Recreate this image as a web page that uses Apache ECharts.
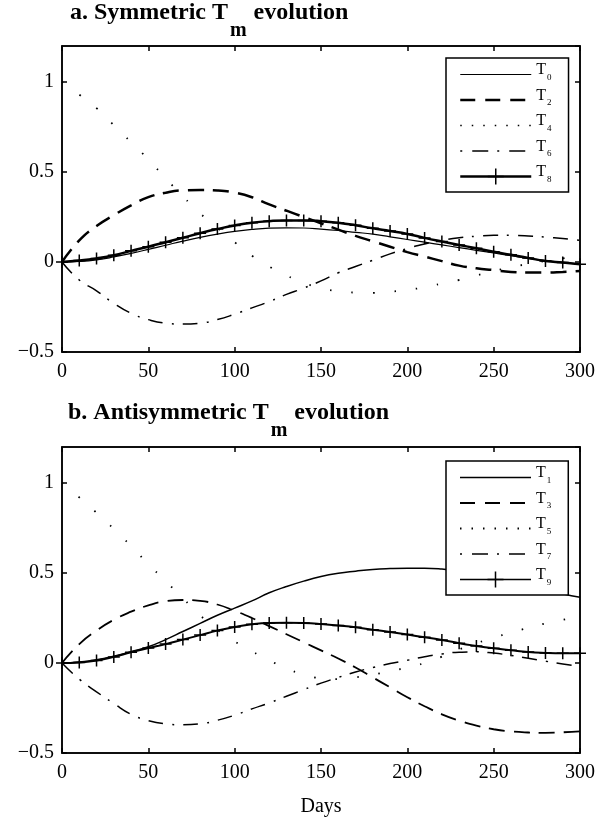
<!DOCTYPE html>
<html>
<head>
<meta charset="utf-8">
<script src="https://cdn.jsdelivr.net/npm/echarts@6/dist/echarts.min.js"></script>
<style>
  html, body { margin: 0; padding: 0; background: #fff; }
  #chart { width: 603px; height: 820px; }
</style>
</head>
<body>
<div id="chart"></div>
<script>
const serif = '"Liberation Serif", "Times New Roman", serif';

// days sampled every 10 days
const days = [0, 10, 20, 30, 40, 50, 60, 70, 80, 90, 100, 110, 120, 130, 140, 150,
  160, 170, 180, 190, 200, 210, 220, 230, 240, 250, 260, 270, 280, 290, 300];

// a. symmetric modes
const t0 = [0, 0.003, 0.012, 0.028, 0.048, 0.07, 0.093, 0.116, 0.137, 0.155, 0.17, 0.181, 0.188, 0.19, 0.189, 0.183,
  0.175, 0.165, 0.155, 0.14, 0.125, 0.11, 0.095, 0.08, 0.065, 0.05, 0.035, 0.02, 0.008, -0.003, -0.012];
const t2 = [0, 0.12, 0.2, 0.26, 0.315, 0.36, 0.385, 0.398, 0.4, 0.397, 0.385, 0.36, 0.32, 0.285, 0.25, 0.215,
  0.18, 0.145, 0.115, 0.085, 0.055, 0.03, 0.005, -0.02, -0.035, -0.045, -0.055, -0.058, -0.058, -0.055, -0.05];
const t4 = [1, 0.93, 0.855, 0.76, 0.665, 0.57, 0.465, 0.365, 0.27, 0.19, 0.11, 0.035, -0.025, -0.075, -0.115, -0.145,
  -0.162, -0.17, -0.172, -0.165, -0.155, -0.14, -0.12, -0.1, -0.075, -0.05, -0.03, -0.01, 0.005, 0.02, 0.035];
const t6 = [0, -0.1, -0.16, -0.23, -0.285, -0.32, -0.34, -0.345, -0.34, -0.32, -0.29, -0.255, -0.22, -0.18, -0.145, -0.105,
  -0.06, -0.025, 0.01, 0.045, 0.075, 0.1, 0.12, 0.135, 0.143, 0.148, 0.148, 0.145, 0.138, 0.13, 0.12];
const t8 = [0, 0.008, 0.02, 0.037, 0.062, 0.085, 0.11, 0.135, 0.16, 0.183, 0.203, 0.218, 0.227, 0.231, 0.231, 0.227,
  0.218, 0.204, 0.187, 0.172, 0.156, 0.134, 0.114, 0.095, 0.076, 0.057, 0.04, 0.022, 0.006, -0.003, -0.012];

// b. antisymmetric modes
const t1 = [0, 0.005, 0.018, 0.038, 0.063, 0.09, 0.13, 0.175, 0.22, 0.265, 0.305, 0.345, 0.39, 0.425, 0.455, 0.48,
  0.498, 0.51, 0.52, 0.525, 0.527, 0.527, 0.522, 0.51, 0.495, 0.475, 0.455, 0.43, 0.41, 0.385, 0.365];
const t3 = [0, 0.105, 0.18, 0.24, 0.285, 0.32, 0.343, 0.35, 0.345, 0.325, 0.29, 0.25, 0.205, 0.16, 0.115, 0.07,
  0.025, -0.025, -0.08, -0.135, -0.19, -0.24, -0.285, -0.32, -0.348, -0.368, -0.38, -0.386, -0.388, -0.385, -0.38];
const t5 = [1, 0.92, 0.835, 0.745, 0.65, 0.55, 0.455, 0.36, 0.265, 0.185, 0.12, 0.065, 0.015, -0.03, -0.065, -0.085,
  -0.09, -0.08, -0.065, -0.045, -0.025, 0, 0.035, 0.075, 0.11, 0.14, 0.17, 0.195, 0.22, 0.24, 0.26];
const t7 = [0, -0.09, -0.16, -0.225, -0.285, -0.32, -0.338, -0.343, -0.338, -0.318, -0.29, -0.255, -0.222, -0.185, -0.148, -0.112,
  -0.08, -0.05, -0.025, -0.003, 0.015, 0.035, 0.05, 0.06, 0.062, 0.055, 0.042, 0.026, 0.01, -0.005, -0.02];
const t9 = [0, 0.003, 0.014, 0.034, 0.06, 0.083, 0.105, 0.13, 0.155, 0.18, 0.2, 0.215, 0.222, 0.223, 0.222, 0.217,
  0.208, 0.198, 0.185, 0.172, 0.158, 0.143, 0.128, 0.11, 0.095, 0.082, 0.071, 0.061, 0.056, 0.054, 0.054];

const yTicks = { min: -0.5, max: 1.2, interval: 0.5 };
const xTicks = { min: 0, max: 300, interval: 50 };

const plus = 'path://M5,0L5,10M0,5L10,5';
const pts = vals => days.map((d, i) => [d, vals[i]]);

const axLine = { show: true, onZero: false, lineStyle: { color: '#000', width: 1.5 } };
const axTick = { show: true, inside: true, length: 5, lineStyle: { color: '#000', width: 1.5 } };
const tickFont = { color: '#000', fontFamily: serif, fontSize: 20 };

function xPair(gi, name) {
  return [
    { type: 'value', gridIndex: gi, ...xTicks, position: 'bottom', axisLine: axLine, axisTick: axTick,
      axisLabel: { ...tickFont, margin: 10 }, splitLine: { show: false },
      name: name, nameLocation: 'middle', nameGap: 44,
      nameTextStyle: { color: '#000', fontFamily: serif, fontSize: 20 } },
    { type: 'value', gridIndex: gi, ...xTicks, position: 'top', axisLine: axLine, axisTick: axTick,
      axisLabel: { show: false }, splitLine: { show: false } }
  ];
}
function yPair(gi) {
  return [
    { type: 'value', gridIndex: gi, ...yTicks, position: 'left', axisLine: axLine, axisTick: axTick,
      axisLabel: { ...tickFont, margin: 8, showMaxLabel: false,
        formatter: v => v < 0 ? '\u2212' + (-v) : String(v) },
      splitLine: { show: false } },
    { type: 'value', gridIndex: gi, ...yTicks, position: 'right', axisLine: axLine, axisTick: axTick,
      axisLabel: { show: false }, splitLine: { show: false } }
  ];
}

function line(name, vals, ax, dash, width, marker) {
  const s = {
    name: name, type: 'line', xAxisIndex: ax, yAxisIndex: ax, data: pts(vals),
    smooth: true, silent: true, z: marker ? 3 : 2,
    lineStyle: { color: '#000', width: width, type: dash },
    symbol: 'none', showSymbol: false
  };
  if (marker) {
    s.symbol = plus; s.symbolSize = 12; s.showSymbol = true;
    s.itemStyle = { color: 'none', borderColor: '#000', borderWidth: 1.5 };
  }
  return s;
}

const dashed = [16, 9], dotted = [1.5, 20], dashDot = [15, 9, 2, 9];

const titleRich = {
  b: { fontFamily: serif, fontSize: 24, fontWeight: 'bold', color: '#000', verticalAlign: 'top' },
  s: { fontFamily: serif, fontSize: 20, fontWeight: 'bold', color: '#000', verticalAlign: 'top', padding: [20, 1, 0, 2] }
};
const legendRich = {
  t: { fontFamily: serif, fontSize: 16, color: '#000', verticalAlign: 'top' },
  s: { fontFamily: serif, fontSize: 9, color: '#000', verticalAlign: 'top', padding: [11, 0, 5, 1] }
};
const noMark = { opacity: 0 };
function legendItems(names, styles) {
  return names.map((n, i) => ({ name: n, itemStyle: styles[i].mark ? { color: 'none', borderColor: '#000', borderWidth: 1.5 } : noMark,
    lineStyle: { width: styles[i].w, type: styles[i].type } }));
}
const legendBase = {
  orient: 'vertical', left: 446, selectedMode: false,
  backgroundColor: '#fff', borderColor: '#000', borderWidth: 1.5,
  padding: [4, 17, 5, 13], itemWidth: 71, itemHeight: 20, itemGap: 5,
  formatter: n => '{t|T}{s|' + n.slice(1) + '}',
  textStyle: { rich: legendRich }
};

const chart = echarts.init(document.getElementById('chart'), null, { renderer: 'canvas' });
chart.setOption({
  animation: false,
  backgroundColor: '#fff',
  title: [
    { left: 70, top: 1, padding: 0, text: '{b|a. Symmetric T}{s|m}{b| evolution}', textStyle: { rich: titleRich } },
    { left: 68, top: 401, padding: 0, text: '{b|b. Antisymmetric T}{s|m}{b| evolution}', textStyle: { rich: titleRich } }
  ],
  grid: [
    { left: 62, right: 23, top: 46, height: 306, show: true, borderColor: '#000', borderWidth: 1.5, backgroundColor: '#fff' },
    { left: 62, right: 23, top: 447, height: 306, show: true, borderColor: '#000', borderWidth: 1.5, backgroundColor: '#fff' }
  ],
  xAxis: [...xPair(0, ''), ...xPair(1, 'Days')],
  yAxis: [...yPair(0), ...yPair(1)],
  legend: [
    { ...legendBase, top: 58, data: legendItems(['T0', 'T2', 'T4', 'T6', 'T8'], [
      { w: 1.2, type: 'solid' }, { w: 2.5, type: [15, 10] }, { w: 1.5, type: [1.5, 10] },
      { w: 1.5, type: [2, 10, 16, 9] }, { w: 2.5, type: 'solid', mark: true }]) },
    { ...legendBase, top: 461, data: legendItems(['T1', 'T3', 'T5', 'T7', 'T9'], [
      { w: 1.5, type: 'solid' }, { w: 1.8, type: [15, 10] }, { w: 2, type: [1.5, 10] },
      { w: 1.5, type: [2, 10, 16, 9] }, { w: 1.5, type: 'solid', mark: true }]) }
  ],
  series: [
    line('T0', t0, 0, 'solid', 1.2),
    line('T2', t2, 0, dashed, 2.5),
    line('T4', t4, 0, dotted, 1.8),
    line('T6', t6, 0, dashDot, 1.5),
    line('T8', t8, 0, 'solid', 2.5, true),
    line('T1', t1, 2, 'solid', 1.5),
    line('T3', t3, 2, dashed, 1.8),
    line('T5', t5, 2, dotted, 1.8),
    line('T7', t7, 2, dashDot, 1.5),
    line('T9', t9, 2, 'solid', 2, true)
  ]
});
</script>
</body>
</html>
